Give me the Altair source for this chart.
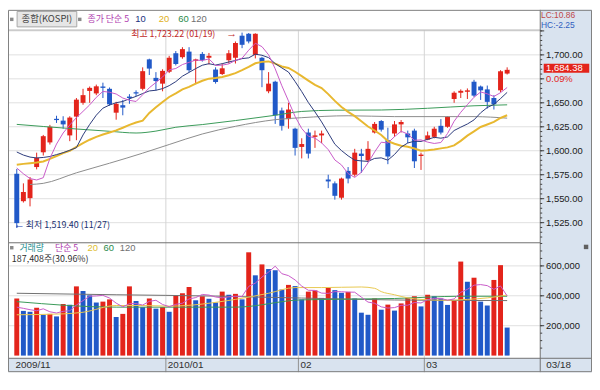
import altair as alt
import pandas as pd

# ---------------- data ----------------
opens = [1576, 1547.4, 1550.6, 1583, 1598.4, 1608.7, 1633.3, 1631.4, 1616, 1635.6,
         1650, 1662.4, 1659.8, 1667, 1664.6, 1639.7, 1647.5, 1656.5, 1661, 1664.6,
         1695.3, 1676, 1670, 1682.4, 1701.7, 1697.6, 1703.4, 1693.7, 1701, 1697,
         1684.7, 1680, 1694.4, 1697, 1720, 1722, 1700, 1697, 1662, 1672,
         1642, 1633, 1623, 1604, 1619, 1614.5, 1616, 1570, 1566, 1551,
         1579, 1575, 1597, 1590, 1619, 1631, 1611, 1618, 1627.5, 1618,
         1621, 1594.5, 1611.5, 1614.5, 1626, 1625, 1654, 1660.5, 1661.5, 1672,
         1667, 1664, 1655, 1663, 1680.5]
highs = [1581, 1566, 1572.6, 1598, 1616.5, 1627, 1636.5, 1636, 1636, 1655,
         1664.6, 1667, 1669, 1671, 1666, 1651, 1653, 1659, 1663, 1687,
         1696, 1682, 1685, 1699, 1704, 1708, 1708, 1696, 1703, 1702,
         1687, 1691, 1705, 1714, 1723.22, 1722.8, 1722.5, 1698, 1682, 1673,
         1645, 1650, 1624, 1613, 1623, 1621, 1621, 1575, 1568, 1572,
         1583, 1602, 1602, 1610, 1630, 1632, 1624, 1631, 1632, 1621,
         1623, 1598, 1620, 1625, 1633, 1636, 1662, 1664, 1665, 1674,
         1668, 1668, 1658, 1684, 1687]
lows = [1519.4, 1546, 1542, 1580.6, 1595, 1606.5, 1629, 1623, 1610, 1611,
        1648, 1650, 1658, 1655, 1647, 1632.4, 1637, 1649, 1657, 1663,
        1679, 1663, 1662, 1681, 1689, 1696, 1682, 1669.5, 1693, 1690,
        1670, 1679, 1691, 1691, 1707, 1712, 1696.3, 1666.3, 1660, 1628,
        1621, 1623, 1595, 1592, 1592, 1603, 1608, 1561, 1549, 1549,
        1566, 1573, 1577, 1588, 1618, 1620, 1586, 1614.5, 1619, 1608,
        1582, 1580, 1611, 1613, 1617, 1624, 1650, 1655, 1654, 1656,
        1653, 1644, 1643, 1661, 1679.5]
closes = [1524.5, 1557, 1570, 1592.6, 1615.2, 1625, 1632, 1627.5, 1634.6, 1653.3,
          1658, 1665.6, 1667.2, 1665.6, 1648.4, 1649, 1645, 1655, 1659.8, 1683,
          1685.7, 1672.7, 1683.3, 1697, 1690.5, 1706, 1684, 1695.3, 1694.7, 1699,
          1671.7, 1686, 1701.7, 1712.4, 1710.5, 1714, 1722, 1684, 1670, 1637,
          1626, 1643, 1603, 1607, 1597, 1616, 1618, 1568, 1553, 1571,
          1571, 1598, 1594.5, 1602, 1628, 1622, 1594, 1627.5, 1630, 1614,
          1589, 1596, 1616, 1623, 1619, 1635.5, 1660.5, 1662.5, 1663, 1657.5,
          1663, 1651, 1648.5, 1682.9, 1684.38]
volumes = [382000, 299000, 293000, 320000, 273000, 279000, 262000, 345000, 340000, 463000,
           432000, 403000, 355000, 361000, 376000, 258000, 279000, 463000, 366000, 324000,
           382000, 314000, 324000, 293000, 401000, 417000, 459000, 370000, 397000, 380000,
           355000, 428000, 407000, 413000, 376000, 691000, 537000, 610000, 579000, 571000,
           442000, 473000, 465000, 376000, 428000, 436000, 386000, 453000, 438000, 420000,
           426000, 382000, 287000, 273000, 382000, 307000, 341000, 301000, 349000, 386000,
           397000, 329000, 407000, 397000, 382000, 339000, 370000, 629000, 494000, 521000,
           361000, 335000, 506000, 605000, 187408]

ma5 = [1582, 1576, 1571, 1569.5, 1571.9, 1592.0, 1607.0, 1618.5, 1626.9, 1634.5,
       1641.1, 1647.8, 1655.7, 1661.9, 1661.0, 1659.2, 1655.0, 1652.6, 1651.4, 1658.4,
       1665.7, 1671.2, 1676.9, 1684.3, 1685.8, 1689.9, 1692.2, 1694.6, 1694.1, 1695.8,
       1688.9, 1689.3, 1690.6, 1694.2, 1696.5, 1704.9, 1712.1, 1708.6, 1700.1, 1685.4,
       1667.8, 1652.0, 1635.8, 1623.2, 1615.2, 1613.2, 1608.2, 1601.2, 1590.4, 1585.2,
       1576.2, 1572.2, 1577.5, 1587.3, 1598.7, 1608.9, 1608.1, 1614.7, 1620.3, 1617.5,
       1610.9, 1611.3, 1609.0, 1607.6, 1608.6, 1617.9, 1630.8, 1640.1, 1648.1, 1655.8,
       1661.3, 1659.4, 1656.6, 1660.6, 1666.0]
ma10 = [1598.7, 1595.5, 1593.4, 1592.5, 1593, 1594, 1596, 1598, 1600.5, 1603.2,
        1616.5, 1627.4, 1637.1, 1644.4, 1647.7, 1650.1, 1651.4, 1654.2, 1656.7, 1659.7,
        1662.4, 1663.1, 1664.8, 1667.9, 1672.1, 1677.8, 1681.7, 1685.7, 1689.2, 1690.8,
        1689.4, 1690.8, 1692.6, 1694.1, 1696.1, 1696.9, 1700.7, 1699.6, 1697.1, 1690.9,
        1686.4, 1682.1, 1672.2, 1661.7, 1650.3, 1640.5, 1630.1, 1618.5, 1606.8, 1600.2,
        1594.7, 1590.2, 1589.4, 1588.9, 1592.0, 1592.6, 1590.2, 1596.1, 1603.8, 1608.1,
        1609.9, 1609.7, 1611.9, 1614.0, 1613.1, 1614.4, 1621.1, 1624.6, 1627.9, 1632.2,
        1639.6, 1645.1, 1648.4, 1654.4, 1660.9]
ma20 = [1585.5, 1586.3, 1587, 1587.8, 1588.8, 1591.5, 1594.5, 1597.5, 1600, 1604,
        1608, 1611.5, 1614.5, 1617, 1619, 1621.2, 1624, 1627, 1629.5, 1631.4,
        1639.5, 1645.3, 1650.9, 1656.1, 1659.9, 1664.0, 1666.6, 1670.0, 1673.0, 1675.2,
        1675.9, 1676.9, 1678.7, 1681.0, 1684.1, 1687.4, 1691.2, 1692.7, 1693.2, 1690.9,
        1687.9, 1686.4, 1682.4, 1677.9, 1673.2, 1668.7, 1665.4, 1659.1, 1652.0, 1645.6,
        1640.5, 1636.1, 1630.8, 1625.3, 1621.1, 1616.5, 1610.1, 1607.3, 1605.3, 1604.2,
        1602.3, 1600.0, 1600.6, 1601.4, 1602.5, 1603.5, 1605.6, 1610.3, 1615.8, 1620.2,
        1624.8, 1627.4, 1630.1, 1634.2, 1637.0]
ma60_idx = [0, 4, 9, 14, 18, 21, 24, 28, 33, 39, 43, 48, 55, 62, 69, 74]
ma60_val = [1627.5, 1625.3, 1622.7, 1620.3, 1618.5, 1620.5, 1624.5, 1627.3, 1631.5, 1637,
            1641, 1642.3, 1642.5, 1644.3, 1646.9, 1647.9]
ma120_idx = [2, 4, 9, 14, 19, 23, 28, 33, 39, 43, 50, 57, 69, 74]
ma120_val = [1564.8, 1566, 1577, 1587, 1597.5, 1606.5, 1617.5, 1625.5, 1632.4, 1634.5,
             1636.5, 1635.6, 1635.6, 1634]

vma5 = [324000, 316000, 307000, 300000, 313000, 293000, 285000, 296000, 300000, 338000,
        368000, 397000, 399000, 403000, 385000, 351000, 326000, 347000, 348000, 338000,
        363000, 370000, 342000, 327000, 343000, 350000, 379000, 388000, 409000, 405000,
        392000, 386000, 393000, 397000, 396000, 463000, 485000, 525000, 559000, 598000,
        548000, 535000, 506000, 465000, 437000, 436000, 418000, 416000, 428000, 427000,
        425000, 424000, 391000, 358000, 350000, 326000, 318000, 321000, 336000, 337000,
        355000, 352000, 374000, 383000, 382000, 371000, 379000, 423000, 443000, 471000,
        475000, 468000, 443000, 466000, 399000]
vma20_idx = [0, 7, 10, 15, 19, 23, 33, 38, 42, 46, 52, 54, 55, 57, 59, 61, 65, 68, 71, 74]
vma20_val = [273000, 279000, 290000, 335000, 335000, 331000, 376000, 417000, 455000, 455000,
             459000, 450000, 428000, 407000, 386000, 376000, 370000, 376000, 386000, 405000]
vma60_idx = [0, 15, 33, 43, 57, 67, 74]
vma60_val = [361000, 324000, 324000, 373000, 382000, 397000, 397000]
vma120_idx = [0, 15, 30, 43, 57, 74]
vma120_val = [417000, 407000, 398000, 385000, 372000, 368000]

price_grid = [1525, 1550, 1575, 1600, 1625, 1650, 1675, 1700, 1725]
price_labels = [1525, 1550, 1575, 1600, 1625, 1650, 1700]
price_minor = list(range(1510, 1726, 5))
vol_grid = [200000, 400000, 600000]
vol_minor = list(range(50000, 750001, 50000))
month_pos = [-0.5, 22.5, 42.5, 61.5]
month_labels = ["2009/11", "2010/01", "02", "03"]
last_label = "03/18"

# ---------------- layout / style ----------------
W, H = 590, 366
PX = 537.7            # right edge of plot area
FONT = "Noto Sans CJK KR"
NUM = "Liberation Sans"
RED = "#e3241b"
BLUE = "#2159c8"
PANEL = "#d9e3ef"
GRID = "#e0e0e0"
KS = 9                # size of Korean legend text

xs = alt.Scale(domain=[-0.576, 78.29], range=[0, 538], nice=False, zero=False)
ps = alt.Scale(domain=[1504.75, 1725.68], range=[234.6, 20.6], nice=False, zero=False)
vs = alt.Scale(domain=[-17400, 752800], range=[351.9, 235.6], nice=False, zero=False)

n = len(closes)
cdf = pd.DataFrame({"i": list(range(n)), "open": opens, "high": highs, "low": lows,
                    "close": closes, "vol": volumes})
cdf["vup"] = [True] + [volumes[k] > volumes[k - 1] for k in range(1, n)]

one = pd.DataFrame({"a": [0]})


def X(f):
    return alt.X(f, scale=xs, axis=None)


def PY(f):
    return alt.Y(f, scale=ps, axis=None)


def VY(f):
    return alt.Y(f, scale=vs, axis=None)


def rect(x1, y1, x2, y2, fill, stroke=None):
    kw = dict(fill=fill)
    if stroke:
        kw.update(stroke=stroke, strokeWidth=1)
    return alt.Chart(one).mark_rect(**kw).encode(
        x=alt.value(x1), x2=alt.value(x2), y=alt.value(y1), y2=alt.value(y2))


def frame(x1, y1, x2, y2, stroke):
    return alt.Chart(one).mark_rect(fill="transparent", stroke=stroke, strokeWidth=1).encode(
        x=alt.value(x1), x2=alt.value(x2), y=alt.value(y1), y2=alt.value(y2))


def hline(y, x1, x2, color, w=1):
    return alt.Chart(one).mark_rule(color=color, strokeWidth=w).encode(
        x=alt.value(x1), x2=alt.value(x2), y=alt.value(y))


def vline(x, y1, y2, color, w=1):
    return alt.Chart(one).mark_rule(color=color, strokeWidth=w).encode(
        x=alt.value(x), y=alt.value(y1), y2=alt.value(y2))


def text(s, x, y, color, size=10, font=FONT, align="left"):
    return alt.Chart(pd.DataFrame({"t": [s]})).mark_text(
        align=align, baseline="middle", font=font, fontSize=size, color=color).encode(
        x=alt.value(x), y=alt.value(y), text="t:N")


def square(x, y, color, size=14):
    return alt.Chart(one).mark_point(shape="square", filled=True, size=size, color=color,
                                     opacity=1).encode(x=alt.value(x), y=alt.value(y))


def ma_line(idx, vals, scale_fn, color, w=1, interp="linear"):
    d = pd.DataFrame({"i": idx, "v": vals})
    return alt.Chart(d).mark_line(color=color, strokeWidth=w, interpolate=interp).encode(
        x=X("i:Q"), y=scale_fn("v:Q"))


layers = []
# backgrounds
layers.append(rect(PX, 0, W, H, PANEL))
layers.append(rect(0, 352, W, H, PANEL))

# grids
layers.append(alt.Chart(pd.DataFrame({"p": price_grid})).mark_rule(color=GRID).encode(
    y=PY("p:Q"), x=alt.value(0), x2=alt.value(PX)))
layers.append(alt.Chart(pd.DataFrame({"v": vol_grid})).mark_rule(color=GRID).encode(
    y=VY("v:Q"), x=alt.value(0), x2=alt.value(PX)))
layers.append(alt.Chart(pd.DataFrame({"m": month_pos[1:]})).mark_rule(color="#d4d4d4").encode(
    x=X("m:Q"), y=alt.value(20.6), y2=alt.value(352)))
layers.append(alt.Chart(pd.DataFrame({"m": month_pos[1:]})).mark_rule(color="#909090").encode(
    x=X("m:Q"), y=alt.value(352), y2=alt.value(H)))

# volume bars and their averages
layers.append(alt.Chart(cdf).mark_bar(size=5).encode(
    x=X("i:Q"), y=VY("vol:Q"), y2=alt.datum(0),
    color=alt.condition("datum.vup", alt.value(RED), alt.value(BLUE))))
layers.append(ma_line(vma120_idx, vma120_val, VY, "#707070", 1, "monotone"))
layers.append(ma_line(vma60_idx, vma60_val, VY, "#3a9a58", 1, "monotone"))
layers.append(ma_line(vma20_idx, vma20_val, VY, "#e8c850", 1, "monotone"))
layers.append(ma_line(list(range(n)), vma5, VY, "#c85ac8", 1))

# candles
updown = alt.condition("datum.close >= datum.open", alt.value(RED), alt.value(BLUE))
layers.append(alt.Chart(cdf).mark_rule(strokeWidth=1).encode(
    x=X("i:Q"), y=PY("low:Q"), y2="high:Q", color=updown))
layers.append(alt.Chart(cdf).mark_bar(size=5).encode(
    x=X("i:Q"), y=PY("open:Q"), y2="close:Q", color=updown))

# price moving averages
layers.append(ma_line(ma120_idx, ma120_val, PY, "#8c8c8c", 1, "monotone"))
layers.append(ma_line(ma60_idx, ma60_val, PY, "#3a9a58", 1, "monotone"))
layers.append(ma_line(list(range(n)), ma20, PY, "#e8b830", 2))
layers.append(ma_line(list(range(n)), ma10, PY, "#2a3a7a", 1))
layers.append(ma_line(list(range(n)), ma5, PY, "#c85ac8", 1))

# frame lines
layers.append(hline(20.4, 0, PX, "#b0b0b0"))
layers.append(hline(235.3, 0, PX, "#707070"))
layers.append(hline(352, 0, W, "#707070"))
layers.append(vline(PX, 0, H, "#707070"))
layers.append(frame(0.5, 0.5, W - 0.5, H - 0.5, "#808080"))

# right axis: ticks and labels
layers.append(alt.Chart(pd.DataFrame({"p": price_minor})).mark_rule(color="#404040").encode(
    y=PY("p:Q"), x=alt.value(PX), x2=alt.value(PX + 2)))
layers.append(alt.Chart(pd.DataFrame({"p": price_grid})).mark_rule(color="#404040").encode(
    y=PY("p:Q"), x=alt.value(PX), x2=alt.value(PX + 4)))
layers.append(alt.Chart(pd.DataFrame({"p": price_labels})).mark_text(
    align="left", baseline="middle", font=NUM, fontSize=9.5, color="#202020").encode(
    x=alt.value(543.6), y=PY("p:Q"), text=alt.Text("p:Q", format=",.2f")))
layers.append(alt.Chart(pd.DataFrame({"v": vol_minor})).mark_rule(color="#404040").encode(
    y=VY("v:Q"), x=alt.value(PX), x2=alt.value(PX + 2)))
layers.append(alt.Chart(pd.DataFrame({"v": vol_grid})).mark_rule(color="#404040").encode(
    y=VY("v:Q"), x=alt.value(PX), x2=alt.value(PX + 4)))
layers.append(alt.Chart(pd.DataFrame({"v": vol_grid})).mark_text(
    align="left", baseline="middle", font=NUM, fontSize=9.5, color="#202020").encode(
    x=alt.value(543.6), y=VY("v:Q"), text=alt.Text("v:Q", format=",d")))

# last price tag
last = pd.DataFrame({"c": [closes[-1]]})
layers.append(alt.Chart(last).mark_point(shape="M-1,-0.196H1V0.196H-1Z", filled=True, size=2116,
                                         color=RED, opacity=1, yOffset=-1.7).encode(
    x=alt.value(564.2), y=PY("c:Q")))
layers.append(alt.Chart(last).mark_text(align="left", baseline="middle", font=NUM, fontSize=9.5,
                                        color="white", yOffset=-1.7).encode(
    x=alt.value(543.6), y=PY("c:Q"), text=alt.Text("c:Q", format=",.2f")))
layers.append(text("0.09%", 543.6, 69.5, RED, 9.5, NUM))
layers.append(text("LC:10.86", 538.5, 5.0, "#c04848", 8.5, NUM))
layers.append(text("HC:-2.25", 538.5, 15.6, "#3060c0", 8.5, NUM))

# header legend
layers.append(square(3.8, 9.6, "#8a8a8a", 12))
layers.append(rect(9.2, 1.6, 69.5, 17.2, "#e6e6e6", "#a8a8a8"))
layers.append(text("종합(KOSPI)", 39.3, 9.6, "#404040", KS + 0.5, FONT, "center"))
layers.append(square(72.5, 9.6, "#8a8a8a", 12))
layers.append(text("종가 단순 5", 80.3, 9.6, "#b040b0", KS))
layers.append(text("10", 128.5, 9.6, "#203080", KS + 0.5, NUM))
layers.append(text("20", 152.4, 9.6, "#e0b020", KS + 0.5, NUM))
layers.append(text("60", 172, 9.6, "#2a8a4a", KS + 0.5, NUM))
layers.append(text("120", 185, 9.6, "#707070", KS + 0.5, NUM))

# high / low annotations
layers.append(text("최고 1,723.22 (01/19)", 124.5, 24.6, "#c02828", KS))
layers.append(text("→", 226, 24.6, "#c02828", 11, NUM, "center"))
layers.append(text("←", 11.5, 217.5, "#2040b0", 11, NUM, "center"))
layers.append(text("최저 1,519.40 (11/27)", 18, 217.5, "#203070", KS))

# volume header
layers.append(square(3.8, 240.3, "#8a8a8a", 12))
layers.append(text("거래량", 11.5, 240.3, "#2a9090", KS))
layers.append(text("단순 5", 47.5, 240.3, "#b040b0", KS))
layers.append(text("20", 80.3, 240.3, "#e0c030", KS + 0.5, NUM))
layers.append(text("60", 96.6, 240.3, "#2a8a4a", KS + 0.5, NUM))
layers.append(text("120", 113, 240.3, "#707070", KS + 0.5, NUM))
layers.append(text("187,408주(30.96%)", 3.9, 252, "#303030", KS))
layers.append(square(584, 239.5, "#606060", 20))

# date strip labels
layers.append(alt.Chart(pd.DataFrame({"m": month_pos, "t": month_labels})).mark_text(
    align="left", baseline="middle", font=NUM, fontSize=10, color="#303030", dx=2).encode(
    x=X("m:Q"), y=alt.value(359), text="t:N"))
layers.append(text(last_label, 543.8, 359, "#303030", 10, NUM))

chart = alt.layer(*layers).properties(
    width=W, height=H, padding=0, autosize="none", background="white"
).resolve_scale(y="independent").configure_view(stroke=None)

chart.save("out.html", embed_options={"renderer": "svg", "actions": False})
